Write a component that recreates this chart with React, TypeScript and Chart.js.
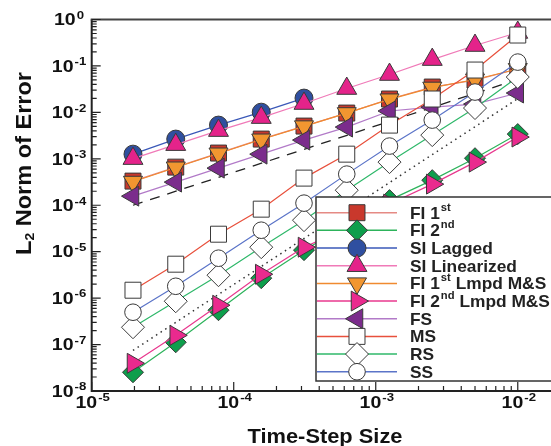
import React, { useEffect, useRef } from 'react';
import { Chart, registerables } from 'chart.js';

Chart.register(...registerables);

// ---------- data ----------
const timeSteps = [1.953125e-5, 3.90625e-5, 7.8125e-5, 1.5625e-4, 3.125e-4, 6.25e-4, 1.25e-3, 2.5e-3, 5e-3, 1e-2];

const fi1st = [3.31e-4, 6.62e-4, 1.33e-3, 2.66e-3, 5.07e-3, 9.66e-3, 1.94e-2, 3.51e-2, 4.97e-2, 8.58e-2];
const fi2nd = [2.53e-8, 1.12e-7, 5.49e-7, 2.69e-6, 1.08e-5, 3.72e-5, 1.29e-4, 3.47e-4, 1.03e-3, 3.41e-3];
const siLagged = [1.26e-3, 2.66e-3, 5.32e-3, 1.01e-2, 2.03e-2];
const siLinearized = [1.01e-3, 2.02e-3, 4.05e-3, 7.72e-3, 1.55e-2, 3.26e-2, 6.53e-2, 0.137, 0.275, 0.525];
const fi1stLmpd = [3.2e-4, 6.5e-4, 1.3e-3, 2.6e-3, 5.0e-3, 9.6e-3, 1.9e-2, 3.4e-2, 5.1e-2, 8.6e-2];
const fi2ndLmpd = [3.95e-8, 1.58e-7, 7.03e-7, 3.27e-6, 1.25e-5, 3.21e-5, 1.06e-4, 2.85e-4, 8.49e-4, 2.94e-3];
const fs = [1.57e-4, 3.15e-4, 6.3e-4, 1.26e-3, 2.53e-3, 4.82e-3, 1.07e-2, 1.3e-2, 1.51e-2, 2.61e-2];
const ms = [1.48e-6, 5.38e-6, 2.38e-5, 8.24e-5, 3.84e-4, 1.26e-3, 5.32e-3, 1.94e-2, 8.16e-2, 0.463];
const rs = [2.36e-7, 8.57e-7, 3.12e-6, 1.25e-5, 4.77e-5, 2.11e-4, 8.49e-4, 3.24e-3, 1.24e-2, 5.77e-2];
const ss = [4.97e-7, 1.8e-6, 7.24e-6, 2.9e-5, 1.11e-4, 4.68e-4, 1.88e-3, 6.82e-3, 2.74e-2, 0.121];

// reference slopes (first and second order)
const refX = [1.953125e-5, 1e-2];
const refFirstOrder = [1.0e-4, 5.12e-2];
const refSecondOrder = [7.5e-8, 1.97e-2];

const xTickExponents = [-5, -4, -3, -2];
const yTickExponents = [0, -1, -2, -3, -4, -5, -6, -7, -8];

const xTitle = 'Time-Step Size';
const yTitleMain = 'L';
const yTitleSub = '2';
const yTitleRest = ' Norm of Error';

// legend labels: [main, superscript, rest]
const legendLabels: [string, string, string][] = [
  ['FI 1', 'st', ''],
  ['FI 2', 'nd', ''],
  ['SI Lagged', '', ''],
  ['SI Linearized', '', ''],
  ['FI 1', 'st', ' Lmpd M&S'],
  ['FI 2', 'nd', ' Lmpd M&S'],
  ['FS', '', ''],
  ['MS', '', ''],
  ['RS', '', ''],
  ['SS', '', ''],
];

const seriesValues = [fi1st, fi2nd, siLagged, siLinearized, fi1stLmpd, fi2ndLmpd, fs, ms, rs, ss];

// styles
const lineColors = ['#e58a84', '#2db35b', '#3a58b8', '#f07ab8', '#f08a30', '#e8388e', '#b27ac8', '#e8503c', '#2fb86a', '#5b74c8'];
const fillColors = ['#c9382c', '#0e9e4c', '#2f4fa0', '#e4238a', '#f29630', '#ea2a8e', '#7b2c8c', '#ffffff', '#ffffff', '#ffffff'];
const pointStyles = ['rect', 'rectRot', 'circle', 'triangle', 'triangle', 'triangle', 'triangle', 'rect', 'rectRot', 'circle'];
const pointRotations = [0, 0, 0, 0, 180, 90, 270, 0, 0, 0];
const pointRadii = [11.3, 10.5, 9, 11.5, 11, 11.5, 11.5, 11.3, 11.5, 8.3];

const FONT = '"Liberation Sans", Arial, sans-serif';

function drawMarker(ctx: CanvasRenderingContext2D, style: string, rotDeg: number, r: number, x: number, y: number, fill: string) {
  ctx.save();
  ctx.beginPath();
  let rad = (rotDeg * Math.PI) / 180;
  if (style === 'circle') {
    ctx.arc(x, y, r, 0, Math.PI * 2);
  } else if (style === 'rect') {
    const s = Math.SQRT1_2 * r;
    ctx.rect(x - s, y - s, 2 * s, 2 * s);
  } else if (style === 'rectRot') {
    ctx.moveTo(x - r, y);
    ctx.lineTo(x, y - r);
    ctx.lineTo(x + r, y);
    ctx.lineTo(x, y + r);
    ctx.closePath();
  } else {
    const T = (2 * Math.PI) / 3;
    ctx.moveTo(x + Math.sin(rad) * r, y - Math.cos(rad) * r);
    rad += T;
    ctx.lineTo(x + Math.sin(rad) * r, y - Math.cos(rad) * r);
    rad += T;
    ctx.lineTo(x + Math.sin(rad) * r, y - Math.cos(rad) * r);
    ctx.closePath();
  }
  ctx.fillStyle = fill;
  ctx.fill();
  ctx.lineWidth = 1;
  ctx.strokeStyle = '#3a3a3a';
  ctx.stroke();
  ctx.restore();
}

function drawStretched(ctx: CanvasRenderingContext2D, s: string, x: number, y: number, font: string, sx: number) {
  ctx.save();
  ctx.font = font;
  const w = ctx.measureText(s).width * sx;
  ctx.translate(x, y);
  ctx.scale(sx, 1);
  ctx.textAlign = 'left';
  ctx.textBaseline = 'alphabetic';
  ctx.fillText(s, 0, 0);
  ctx.restore();
  return w;
}

function measure(ctx: CanvasRenderingContext2D, s: string, font: string, sx: number) {
  ctx.save();
  ctx.font = font;
  const w = ctx.measureText(s).width * sx;
  ctx.restore();
  return w;
}

function powLabel(ctx: CanvasRenderingContext2D, e: number, cx: number, cy: number) {
  const big = `bold 16px ${FONT}`;
  const small = `bold 11px ${FONT}`;
  const w1 = measure(ctx, '10', big, 1.22);
  const w2 = measure(ctx, String(e), small, 1.2);
  const total = w1 + 1 + w2;
  const x0 = cx - total / 2;
  const base = cy + 5.8;
  drawStretched(ctx, '10', x0, base, big, 1.22);
  drawStretched(ctx, String(e), x0 + w1 + 1, base - 6.5, small, 1.2);
}

const overlayPlugin = {
  id: 'overlay',
  afterDatasetsDraw(chart: any) {
    const ctx: CanvasRenderingContext2D = chart.ctx;
    // legend box
    const bx = 316, by = 197, bw = 240, bh = 184;
    ctx.save();
    ctx.fillStyle = '#ffffff';
    ctx.fillRect(bx, by, bw, bh);
    ctx.lineWidth = 1.5;
    ctx.strokeStyle = '#333333';
    ctx.strokeRect(bx, by, bw, bh);
    ctx.restore();
    const textFont = `bold 17px ${FONT}`;
    const supFont = `bold 11px ${FONT}`;
    legendLabels.forEach((lab, i) => {
      const yc = 212.7 + i * 17.67;
      ctx.save();
      ctx.strokeStyle = lineColors[i];
      ctx.lineWidth = 1.5;
      ctx.beginPath();
      ctx.moveTo(317, yc);
      ctx.lineTo(397, yc);
      ctx.stroke();
      ctx.restore();
      drawMarker(ctx, pointStyles[i], pointRotations[i], pointRadii[i], 357, yc, fillColors[i]);
      ctx.save();
      ctx.fillStyle = '#222222';
      let x = 410;
      const base = yc + 6;
      x += drawStretched(ctx, lab[0], x, base, textFont, 1.02);
      if (lab[1]) x += drawStretched(ctx, lab[1], x + 1, base - 8, supFont, 1.02) + 1;
      if (lab[2]) drawStretched(ctx, lab[2], x, base, textFont, 1.02);
      ctx.restore();
    });
  },
  afterDraw(chart: any) {
    const ctx: CanvasRenderingContext2D = chart.ctx;
    const xs = chart.scales.x;
    const ys = chart.scales.y;
    const { left, right, top, bottom } = chart.chartArea;
    ctx.save();
    // frame
    ctx.strokeStyle = '#222222';
    ctx.lineWidth = 2;
    ctx.beginPath();
    ctx.moveTo(left, top);
    ctx.lineTo(left, bottom);
    ctx.lineTo(right + 2, bottom);
    ctx.stroke();
    ctx.strokeStyle = '#444444';
    ctx.beginPath();
    ctx.moveTo(left - 1, top);
    ctx.lineTo(right + 2, top);
    ctx.stroke();
    // ticks
    ctx.strokeStyle = '#222222';
    ctx.lineWidth = 1.2;
    ctx.beginPath();
    yTickExponents.forEach((e) => {
      const p = ys.getPixelForValue(Math.pow(10, e));
      ctx.moveTo(left, p);
      ctx.lineTo(left + 9, p);
      if (e > -8) {
        for (let k = 2; k <= 9; k++) {
          const q = ys.getPixelForValue(k * Math.pow(10, e - 1));
          ctx.moveTo(left, q);
          ctx.lineTo(left + 5, q);
        }
      }
    });
    xTickExponents.forEach((e) => {
      const p = xs.getPixelForValue(Math.pow(10, e));
      ctx.moveTo(p, bottom);
      ctx.lineTo(p, bottom - 9);
      for (let k = 2; k <= 9; k++) {
        const v = k * Math.pow(10, e);
        if (v > xs.max) break;
        const q = xs.getPixelForValue(v);
        ctx.moveTo(q, bottom);
        ctx.lineTo(q, bottom - 5);
      }
    });
    ctx.stroke();
    // tick labels
    ctx.fillStyle = '#111111';
    yTickExponents.forEach((e) => {
      powLabel(ctx, e, 69, ys.getPixelForValue(Math.pow(10, e)));
    });
    xTickExponents.forEach((e) => {
      powLabel(ctx, e, xs.getPixelForValue(Math.pow(10, e)) + 1, 402);
    });
    // x title
    const tFont = `bold 21px ${FONT}`;
    const tw = measure(ctx, xTitle, tFont, 1.04);
    drawStretched(ctx, xTitle, 325 - tw / 2, 443, tFont, 1.04);
    // y title
    const yFont = `bold 22px ${FONT}`;
    const subFont = `bold 13px ${FONT}`;
    const w1 = measure(ctx, yTitleMain, yFont, 1.07);
    const w2 = measure(ctx, yTitleSub, subFont, 1.07);
    const w3 = measure(ctx, yTitleRest, yFont, 1.07);
    const total = w1 + w2 + w3;
    ctx.translate(31, 163.5);
    ctx.rotate(-Math.PI / 2);
    let x = -total / 2;
    drawStretched(ctx, yTitleMain, x, 0, yFont, 1.07);
    x += w1;
    drawStretched(ctx, yTitleSub, x, 3, subFont, 1.07);
    x += w2;
    drawStretched(ctx, yTitleRest, x, 0, yFont, 1.07);
    ctx.restore();
  },
};

export default function App() {
  const ref = useRef<HTMLCanvasElement>(null);
  useEffect(() => {
    if (!ref.current) return;
    const datasets: any[] = seriesValues.map((vals, i) => ({
      label: legendLabels[i].join(''),
      data: vals.map((v, j) => ({ x: timeSteps[j], y: v })),
      showLine: true,
      borderColor: lineColors[i],
      borderWidth: 1.2,
      pointStyle: pointStyles[i],
      pointRotation: pointRotations[i],
      pointRadius: pointRadii[i],
      pointBackgroundColor: fillColors[i],
      pointBorderColor: '#3a3a3a',
      pointBorderWidth: 1,
      order: 20 - i,
    }));
    datasets.push({
      label: 'first order',
      data: refX.map((x, j) => ({ x, y: refFirstOrder[j] })),
      showLine: true,
      borderColor: '#222222',
      borderWidth: 1.3,
      borderDash: [10, 8],
      pointRadius: 0,
      order: 50,
    });
    datasets.push({
      label: 'second order',
      data: refX.map((x, j) => ({ x, y: refSecondOrder[j] })),
      showLine: true,
      borderColor: '#333333',
      borderWidth: 1.5,
      borderDash: [1.5, 4],
      pointRadius: 0,
      order: 51,
    });
    const chart = new Chart(ref.current, {
      type: 'scatter',
      data: { datasets },
      options: {
        animation: false,
        responsive: false,
        maintainAspectRatio: false,
        events: [],
        layout: { autoPadding: false, padding: { left: 91.7, top: 19.5, right: 0, bottom: 55 } },
        scales: {
          x: { type: 'logarithmic', min: 1e-5, max: 0.01714, display: false, bounds: 'data' },
          y: { type: 'logarithmic', min: 1e-8, max: 1, display: false, bounds: 'data' },
        },
        plugins: { legend: { display: false }, tooltip: { enabled: false } },
      } as any,
      plugins: [overlayPlugin],
    });
    return () => chart.destroy();
  }, []);
  return (
    <div style={{ position: 'fixed', left: 0, top: 0, width: 551, height: 446, background: '#ffffff' }}>
      <canvas ref={ref} width={551} height={446} style={{ display: 'block' }} />
    </div>
  );
}
